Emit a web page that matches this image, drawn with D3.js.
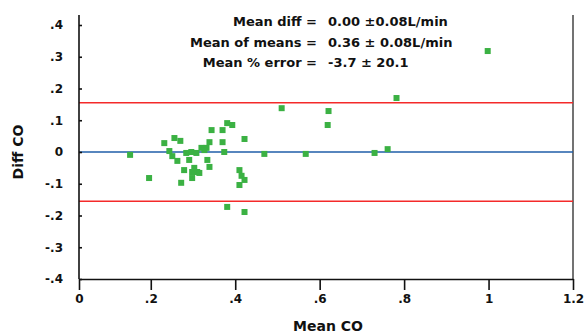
<!DOCTYPE html>
<html>
<head>
<meta charset="utf-8">
<script src="https://cdn.jsdelivr.net/npm/d3@7"></script>
<style>
  body { margin: 0; background: white; }
  text { font-family: "DejaVu Sans", sans-serif; font-weight: bold; fill: #111; }
</style>
</head>
<body>
<div id="container"></div>
<script>
// Mean CO (x) vs Diff CO (y)
const meanCO = [0.151, 0.196, 0.232, 0.256, 0.270, 0.244, 0.251, 0.263, 0.284, 0.296,
    0.291, 0.279, 0.298, 0.310, 0.298, 0.272, 0.303, 0.308, 0.320, 0.332,
    0.339, 0.344, 0.327, 0.315, 0.334, 0.339, 0.370, 0.381, 0.393, 0.370,
    0.374, 0.422, 0.410, 0.415, 0.422, 0.410, 0.381, 0.422, 0.469, 0.510,
    0.567, 0.619, 0.621, 0.730, 0.761, 0.782, 0.998]
const diffCO = [-0.009, -0.082, 0.028, 0.044, 0.035, 0.003, -0.013, -0.028, -0.003, 0.000,
    -0.025, -0.057, -0.063, -0.063, -0.082, -0.097, -0.050, -0.003, 0.013, 0.013,
    0.031, 0.069, 0.006, -0.066, -0.025, -0.047, 0.069, 0.091, 0.085, 0.031,
    0.000, 0.041, -0.057, -0.075, -0.088, -0.104, -0.173, -0.189, -0.006, 0.138,
    -0.006, 0.085, 0.129, -0.003, 0.009, 0.170, 0.318]
const meanDiff = 0
const limits = [0.155, -0.155]

const xTicks = [0.03, 0.2, 0.4, 0.6, 0.8, 1, 1.2]
const xTickLabels = ['0', '.2', '.4', '.6', '.8', '1', '1.2']
const yTicks = [-0.4, -0.3, -0.2, -0.1, 0, 0.1, 0.2, 0.3, 0.4]
const yTickLabels = ['-.4', '-.3', '-.2', '-.1', '0', '.1', '.2', '.3', '.4']

const statLabels = ['Mean diff =', 'Mean of means =', 'Mean % error =']
const statValues = ['0.00 \u00b10.08L/min', '0.36 \u00b1 0.08L/min', '-3.7 \u00b1 20.1']

const config = {
    width: 585,
    height: 333,
    left: 79,
    right: 573,
    top: 15,
    bottom: 279,
}

const svg = d3.select('#container')
    .append('svg')
    .attr('width', config.width)
    .attr('height', config.height)

const xScale = d3.scaleLinear()
    .domain([0.03, 1.2])
    .range([config.left, config.right])

const yScale = d3.scaleLinear()
    .domain([-0.4, 0.4])
    .range([config.bottom, 25])

// right frame line
svg.append('line')
    .attr('x1', config.right).attr('x2', config.right)
    .attr('y1', config.top).attr('y2', config.bottom)
    .attr('stroke', '#444')
    .attr('stroke-width', 1.5)

// limits of agreement and mean line
svg.append('g')
    .selectAll('line')
    .data(limits)
    .join('line')
    .attr('x1', config.left).attr('x2', config.right)
    .attr('y1', d => yScale(d)).attr('y2', d => yScale(d))
    .attr('stroke', '#f42a2a')
    .attr('stroke-width', 1.6)

svg.append('line')
    .attr('x1', config.left).attr('x2', config.right)
    .attr('y1', yScale(meanDiff)).attr('y2', yScale(meanDiff))
    .attr('stroke', '#1f5ea8')
    .attr('stroke-width', 1.6)

const xAxis = svg.append('g')
    .attr('class', 'x-axis')
    .attr('transform', `translate(0,${config.bottom})`)
    .call(d3.axisBottom(xScale)
        .tickValues(xTicks)
        .tickFormat((d, i) => xTickLabels[i])
        .tickSizeInner(11)
        .tickSizeOuter(0)
        .tickPadding(4))

const yAxis = svg.append('g')
    .attr('class', 'y-axis')
    .attr('transform', `translate(${config.left},0)`)
    .call(d3.axisLeft(yScale)
        .tickValues(yTicks)
        .tickFormat((d, i) => yTickLabels[i])
        .tickSizeInner(12)
        .tickSizeOuter(0)
        .tickPadding(4))

yAxis.select('.domain').attr('d', `M0,${config.top}V${config.bottom}`)
yAxis.selectAll('.tick line').attr('x2', 3)

svg.selectAll('.x-axis .domain, .y-axis .domain, .tick line')
    .attr('stroke', '#111')
    .attr('stroke-width', 1.6)
svg.selectAll('.tick text')
    .style('font-family', '"DejaVu Sans", sans-serif')
    .style('font-weight', 'bold')
    .style('font-size', '12px')
    .attr('fill', '#111')

// points
svg.append('g')
    .selectAll('rect')
    .data(meanCO)
    .join('rect')
    .attr('x', (d, i) => xScale(d) - 3)
    .attr('y', (d, i) => yScale(diffCO[i]) - 3)
    .attr('width', 6)
    .attr('height', 6)
    .attr('fill', '#3bb143')

// stats block
svg.append('g')
    .selectAll('text')
    .data(statLabels)
    .join('text')
    .attr('x', 317)
    .attr('y', (_, i) => 26 + i * 20.5)
    .attr('text-anchor', 'end')
    .style('font-size', '13px')
    .text(d => d)

svg.append('g')
    .selectAll('text')
    .data(statValues)
    .join('text')
    .attr('x', 328)
    .attr('y', (_, i) => 26 + i * 20.5)
    .style('font-size', '13px')
    .text(d => d)

// axis titles
svg.append('text')
    .attr('text-anchor', 'middle')
    .attr('x', 328)
    .attr('y', 331)
    .style('font-size', '14px')
    .text('Mean CO')

svg.append('text')
    .attr('text-anchor', 'middle')
    .attr('transform', `translate(23,${yScale(0)}) rotate(-90)`)
    .style('font-size', '14px')
    .text('Diff CO')
</script>
</body>
</html>
